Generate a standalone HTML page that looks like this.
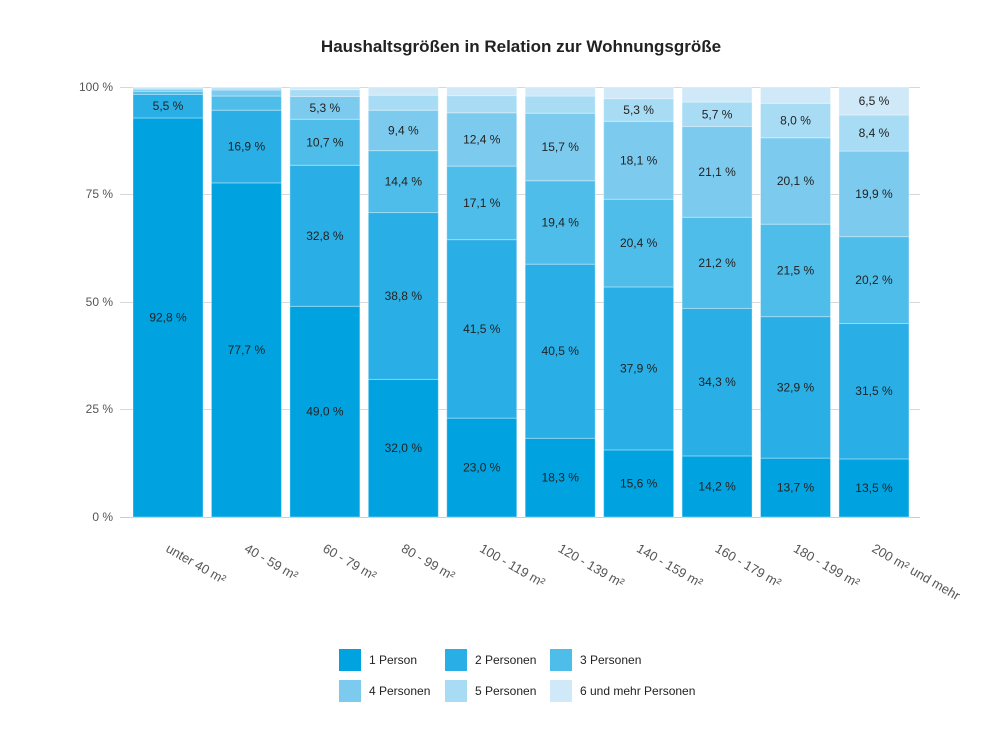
<!DOCTYPE html>
<html><head><meta charset="utf-8"><style>body{margin:0;background:#fff}</style></head><body>
<svg width="1000" height="750" xmlns="http://www.w3.org/2000/svg" font-family="Liberation Sans, sans-serif">
<rect width="1000" height="750" fill="#fff"/>
<text x="521" y="52" text-anchor="middle" font-size="17" font-weight="bold" fill="#222">Haushaltsgrößen in Relation zur Wohnungsgröße</text>
<g stroke="#d8d8d8" stroke-width="1">
<line x1="120" x2="920" y1="87.5" y2="87.5"/><line x1="120" x2="920" y1="194.5" y2="194.5"/><line x1="120" x2="920" y1="302.5" y2="302.5"/><line x1="120" x2="920" y1="409.5" y2="409.5"/><line x1="120" x2="920" y1="517.5" y2="517.5" stroke="#ccc"/>
</g>
<g font-size="12" fill="#555" text-anchor="end">
<text x="113" y="91">100 %</text><text x="113" y="198">75 %</text><text x="113" y="306">50 %</text><text x="113" y="413">25 %</text><text x="113" y="521">0 %</text>
</g>
<g id="bars"></g>
<g font-size="13" fill="#555" id="xl"></g>
<g font-size="12" fill="#222">
<rect x="339" y="649" width="22" height="22" fill="#00a3e0"/><text x="369" y="664">1 Person</text>
<rect x="445" y="649" width="22" height="22" fill="#29afe5"/><text x="475" y="664">2 Personen</text>
<rect x="550" y="649" width="22" height="22" fill="#4fbde9"/><text x="580" y="664">3 Personen</text>
<rect x="339" y="680" width="22" height="22" fill="#7ccbef"/><text x="369" y="695">4 Personen</text>
<rect x="445" y="680" width="22" height="22" fill="#a8dcf5"/><text x="475" y="695">5 Personen</text>
<rect x="550" y="680" width="22" height="22" fill="#cfe9f8"/><text x="580" y="695">6 und mehr Personen</text>
</g>
<script>
var d=[[92.8,5.5,0.7,0.5,0.3,0.2],[77.7,16.9,3.3,1.4,0.5,0.2],[49.0,32.8,10.7,5.3,1.6,0.6],[32.0,38.8,14.4,9.4,3.5,1.9],[23.0,41.5,17.1,12.4,4.0,2.0],[18.3,40.5,19.4,15.7,4.0,2.1],[15.6,37.9,20.4,18.1,5.3,2.7],[14.2,34.3,21.2,21.1,5.7,3.5],[13.7,32.9,21.5,20.1,8.0,3.8],[13.5,31.5,20.2,19.9,8.4,6.5]];
var c=["#00a3e0","#29afe5","#4fbde9","#7ccbef","#a8dcf5","#cfe9f8"];
var lb=["unter 40 m²","40 - 59 m²","60 - 79 m²","80 - 99 m²","100 - 119 m²","120 - 139 m²","140 - 159 m²","160 - 179 m²","180 - 199 m²","200 m² und mehr"];
var ns="http://www.w3.org/2000/svg",g=document.getElementById("bars"),xl=document.getElementById("xl");
function el(t,a,p,tx){var e=document.createElementNS(ns,t);for(var k in a)e.setAttribute(k,a[k]);if(tx)e.textContent=tx;p.appendChild(e);return e;}
d.forEach(function(r,i){var x=133+i*78.44,y=517,s=0;r.forEach(function(v){s+=v});var sc=430/s;
r.forEach(function(v,j){var h=v*sc;el("rect",{x:x,y:y-h,width:70,height:h,fill:c[j],stroke:"#fff","stroke-opacity":"0.35","stroke-width":1},g);
if(v>=5)el("text",{x:x+35,y:y-h/2+4,"text-anchor":"middle","font-size":12,fill:"#222"},g,v.toFixed(1).replace(".",",")+" %");y-=h;});
el("text",{transform:"translate("+(x+32)+",551) rotate(30)"},xl,lb[i]);});
</script>
</svg>
</body></html>
